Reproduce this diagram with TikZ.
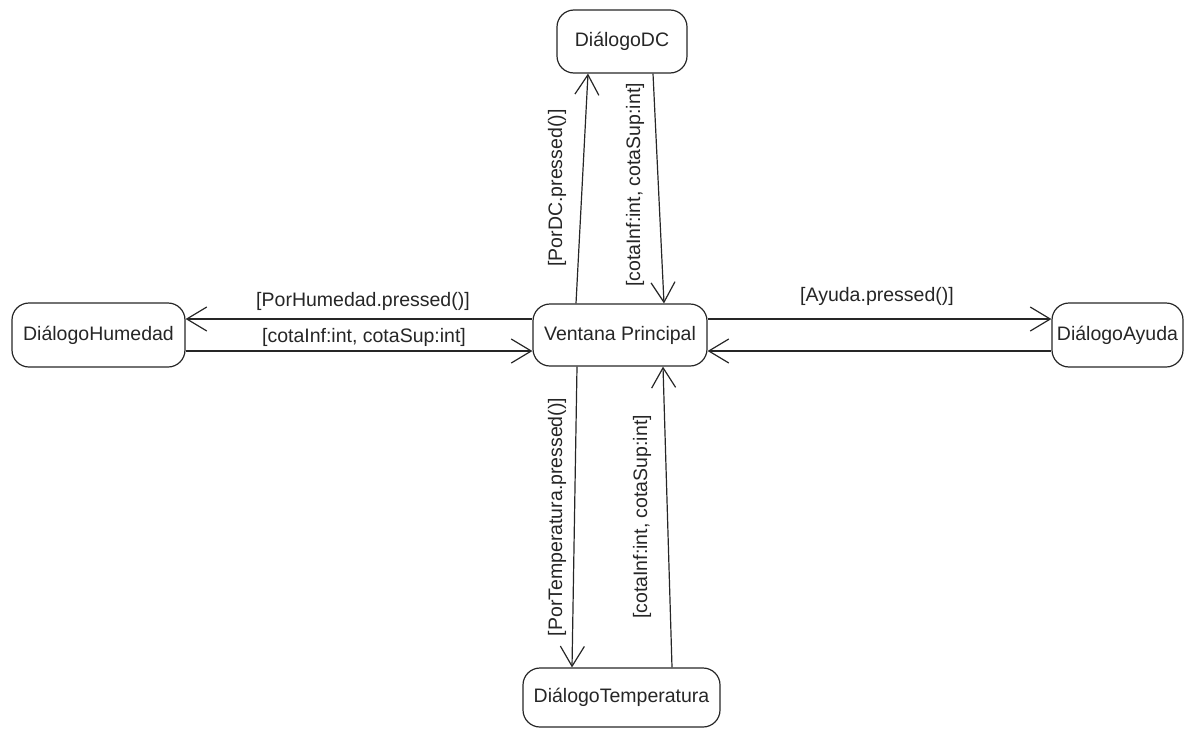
\documentclass[tikz,border=0pt]{standalone}
\usepackage{fontspec}
\setmainfont{Liberation Sans}
\usetikzlibrary{arrows.meta}
\definecolor{ink}{HTML}{262626}
\begin{document}
\begin{tikzpicture}[x=1pt,y=-1pt,
  state/.style={draw=ink,line width=1.2pt,rounded corners=17pt,inner sep=0pt,
    font=\fontsize{19.5}{22}\selectfont,text=ink},
  conn/.style={draw=ink,line width=1.2pt,-{Straight Barb[length=20pt,width=24pt,line width=1.2pt]}},
  lbl/.style={font=\fontsize{19.5}{22}\selectfont,text=ink,inner sep=0pt}]
\useasboundingbox (0,0) rectangle (1193,728);
\node[state,minimum width=130pt,minimum height=63pt] (D) at (622,41.5) {DiálogoDC};
\node[state,minimum width=174pt,minimum height=62pt] (V) at (620,335) {Ventana Principal};
\node[state,minimum width=173pt,minimum height=64pt] (H) at (98.5,335) {DiálogoHumedad};
\node[state,minimum width=131pt,minimum height=64pt] (A) at (1117.5,335) {DiálogoAyuda};
\node[state,minimum width=197pt,minimum height=59pt] (T) at (621.5,697.5) {DiálogoTemperatura};
% horizontal connectors
\draw[conn] (V.west |- 0,319) -- (H.east |- 0,319);
\draw[conn] (H.east |- 0,351) -- (V.west |- 0,351);
\draw[conn] (V.east |- 0,319) -- (A.west |- 0,319);
\draw[conn] (A.west |- 0,351) -- (V.east |- 0,351);
% vertical connectors
\draw[conn] (V.north -| 576,0) -- (D.south -| 588,0);
\draw[conn] (D.south -| 653,0) -- (V.north -| 664,0);
\draw[conn] (V.south -| 577,0) -- (T.north -| 572,0);
\draw[conn] (T.north -| 672,0) -- (V.south -| 663,0);
% labels
\node[lbl] (l1) at (363,301) {[PorHumedad.pressed()]};
\node[lbl] (l2) at (364,337) {[cotaInf:int, cotaSup:int]};
\node[lbl] (l3) at (877,296) {[Ayuda.pressed()]};
\node[lbl,rotate=90] (l4) at (557,188) {[PorDC.pressed()]};
\node[lbl,rotate=90] (l5) at (635,185) {[cotaInf:int, cotaSup:int]};
\node[lbl,rotate=90] (l6) at (557,517) {[PorTemperatura.pressed()]};
\node[lbl,rotate=90] (l7) at (642,517) {[cotaInf:int, cotaSup:int]};
\end{tikzpicture}
\end{document}
